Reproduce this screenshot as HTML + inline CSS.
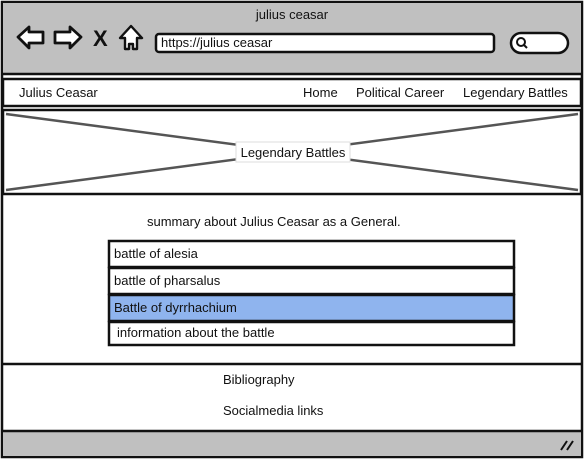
<!DOCTYPE html>
<html><head><meta charset="utf-8"><style>
html,body{margin:0;padding:0;background:#fff;width:584px;height:461px;overflow:hidden}
svg{display:block}
text{font-family:"Liberation Sans",sans-serif;font-size:13px;fill:#111}
</style></head><body>
<svg width="584" height="461" viewBox="0 0 584 461" xmlns="http://www.w3.org/2000/svg">
<rect x="2" y="2" width="580" height="455" fill="#fff" stroke="#111" stroke-width="2.5"/>
<rect x="3" y="3" width="578" height="71" fill="#c0c0c0"/>
<line x1="2" y1="74" x2="582" y2="74" stroke="#111" stroke-width="2.5"/>
<text x="292" y="19" text-anchor="middle">julius ceasar</text>
<path d="M18 37 L29 27 L29 32 L43 32 L43 43 L29 43 L29 48 Z" fill="#fff" stroke="#111" stroke-width="2.8" stroke-linejoin="round"/>
<path d="M81 37 L70 27 L70 32 L55 32 L55 43 L70 43 L70 48 Z" fill="#fff" stroke="#111" stroke-width="2.8" stroke-linejoin="round"/>
<text x="93" y="46" style="font-size:22px;font-weight:bold">X</text>
<path d="M131 26 L142 38 L137 38 L137 49 L133 49 L133 44 L129 44 L129 49 L125 49 L125 38 L120 38 Z" fill="#fff" stroke="#111" stroke-width="2.4" stroke-linejoin="round"/>
<rect x="156" y="34" width="338" height="18" rx="3" fill="#fff" stroke="#111" stroke-width="2.5"/>
<text x="161" y="47">https://julius ceasar</text>
<rect x="511" y="33" width="57" height="20" rx="10" fill="#fff" stroke="#111" stroke-width="2.5"/>
<circle cx="521" cy="42" r="4" fill="none" stroke="#111" stroke-width="2"/>
<line x1="524" y1="45" x2="527" y2="48" stroke="#111" stroke-width="2"/>
<rect x="3" y="79" width="578" height="27" fill="#fff" stroke="#111" stroke-width="2.5"/>
<text x="19" y="97">Julius Ceasar</text>
<text x="303" y="97">Home</text>
<text x="356" y="97">Political Career</text>
<text x="463" y="97">Legendary Battles</text>
<rect x="3" y="110" width="578" height="84" fill="#fff" stroke="#111" stroke-width="2.5"/>
<line x1="6" y1="114" x2="578" y2="190" stroke="#555" stroke-width="2.5"/>
<line x1="6" y1="190" x2="578" y2="114" stroke="#555" stroke-width="2.5"/>
<rect x="236" y="142" width="114" height="20" fill="#fff" stroke="#ddd" stroke-width="1"/>
<text x="293" y="157" text-anchor="middle">Legendary Battles</text>
<line x1="2" y1="364" x2="582" y2="364" stroke="#111" stroke-width="2.5"/>
<text x="147" y="226">summary about Julius Ceasar as a General.</text>
<rect x="109" y="241" width="405" height="26" fill="#fff" stroke="#111" stroke-width="2.5"/>
<rect x="109" y="268" width="405" height="26" fill="#fff" stroke="#111" stroke-width="2.5"/>
<rect x="109" y="295" width="405" height="26" fill="#8fb4ee" stroke="#111" stroke-width="2.5"/>
<rect x="109" y="322" width="405" height="23" fill="#fff" stroke="#111" stroke-width="2.5"/>
<text x="114" y="258">battle of alesia</text>
<text x="114" y="285">battle of pharsalus</text>
<text x="114" y="312">Battle of dyrrhachium</text>
<text x="117" y="337">information about the battle</text>
<text x="223" y="384">Bibliography</text>
<text x="223" y="415">Socialmedia links</text>
<rect x="3" y="431" width="578" height="25" fill="#c0c0c0"/>
<line x1="2" y1="431" x2="582" y2="431" stroke="#111" stroke-width="2.5"/>
<line x1="561" y1="450" x2="567" y2="441" stroke="#111" stroke-width="2"/>
<line x1="567" y1="450" x2="573" y2="441" stroke="#111" stroke-width="2"/>
</svg>
</body></html>
